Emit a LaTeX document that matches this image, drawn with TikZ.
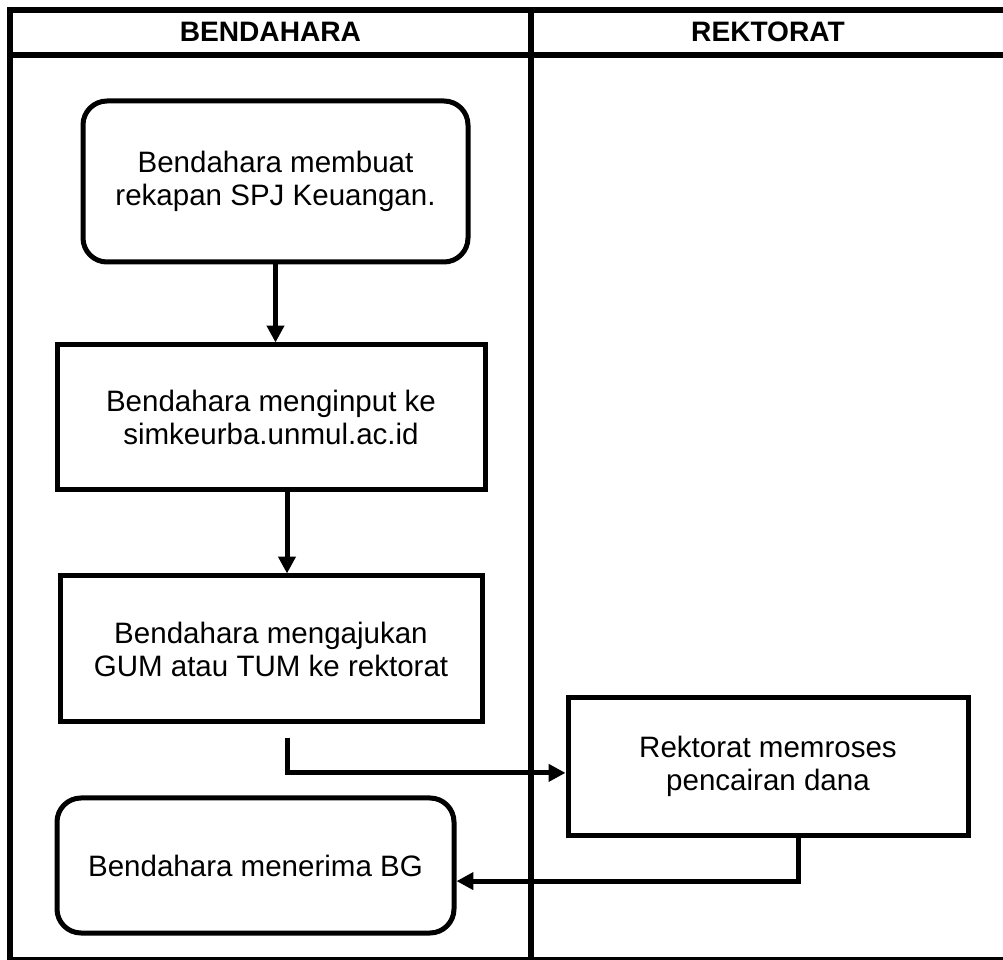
\documentclass[tikz,border=0pt]{standalone}
\usepackage{fontspec}
\setmainfont{Liberation Sans}
\usepackage{tikz}
\usetikzlibrary{arrows.meta, calc, positioning}
\tikzstyle{terminal} = [rectangle, rounded corners=0.6cm, line width=0.125cm, align=center, text centered, draw=black]
\tikzstyle{block} = [rectangle, line width=0.125cm, align=center, text centered, draw=black]
\tikzstyle{lane} = [line width=0.15cm]
\tikzstyle{arrow} = [line width=0.125cm, -{Triangle[length=0.42cm, width=0.42cm]}]
\tikzstyle{header} = [font=\fontsize{20}{23}\selectfont\bfseries]

\begin{document}
\begin{tikzpicture}[font=\fontsize{21}{23.5}\selectfont]
		\useasboundingbox (0,0) rectangle (25.075,-24);
		% swimlanes
		\draw [lane] (0.25,-0.25) rectangle (25.3,-24);
		\draw [lane] (0.25,-1.375) -- (25.3,-1.375);
		\draw [lane] (13.275,-0.25) -- (13.275,-24);
		\node (Bendahara) [header] at (6.76,-0.8) {BENDAHARA};
		\node (Rektorat) [header] at (19.2,-0.8) {REKTORAT};
		% steps
		\node (Rekap) [terminal, minimum width=9.625cm, minimum height=4.025cm] at (6.8875,-4.5375) {Bendahara membuat\\rekapan SPJ Keuangan.};
		\node (Input) [block, minimum width=10.7cm, minimum height=3.625cm, below = 1.95cm of Rekap, xshift=-0.1125cm] {Bendahara menginput ke\\simkeurba.unmul.ac.id};
		\node (Ajukan) [block, minimum width=10.55cm, minimum height=3.65cm, below = 2.025cm of Input] {Bendahara mengajukan\\GUM atau TUM ke rektorat};
		\node (Proses) [block, minimum width=10cm, minimum height=3.45cm, right = 2.025cm of Ajukan, yshift=-2.9375cm] {Rektorat memroses\\pencairan dana};
		\node (Terima) [terminal, minimum width=9.925cm, minimum height=3.375cm, below = 1.775cm of Ajukan, xshift=-0.3875cm] {Bendahara menerima BG};
		\coordinate (AjukanBelow) at ($(Ajukan.south)+(0.4,-0.33)$);
		% connectors
		\draw [arrow] (Rekap.south) -- (Rekap.south |- Input.north);
		\draw [arrow] ([xshift=0.4cm]Input.south) -- ([xshift=0.4cm]Input.south |- Ajukan.north);
		\draw [arrow] (AjukanBelow) |- ([yshift=-0.16cm]Proses.west);
		\draw [arrow] ([xshift=0.75cm]Proses.south) |- ([yshift=-0.39cm]Terima.east);
	\end{tikzpicture}
\end{document}
